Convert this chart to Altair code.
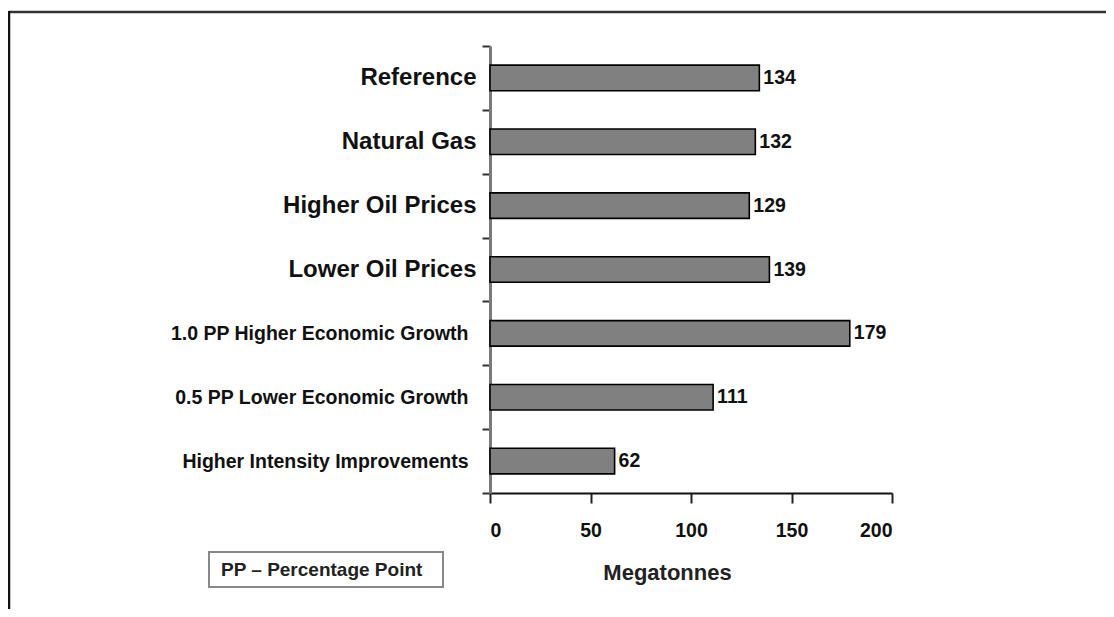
import altair as alt
import pandas as pd

categories = [
    "Reference",
    "Natural Gas",
    "Higher Oil Prices",
    "Lower Oil Prices",
    "1.0 PP Higher Economic Growth",
    "0.5 PP Lower Economic Growth",
    "Higher Intensity Improvements",
]
values = [134, 132, 129, 139, 179, 111, 62]
narrow_categories = [
    "1.0 PP Higher Economic Growth",
    "0.5 PP Lower Economic Growth",
    "Higher Intensity Improvements",
]
x_ticks = [0, 50, 100, 150, 200]
x_title = "Megatonnes"
note_text = "PP \u2013 Percentage Point"

df = pd.DataFrame({"scenario": categories, "mt": values})

FONT = "Liberation Sans, Arial, Helvetica, sans-serif"

narrow_test = "indexof([" + ",".join("'" + c + "'" for c in narrow_categories) + "], datum.value) >= 0"

y_enc = alt.Y(
    "scenario:N",
    sort=categories,
    title=None,
    scale=alt.Scale(paddingInner=0, paddingOuter=0),
    axis=alt.Axis(
        domainColor="#7a7a7a",
        domainWidth=3,
        tickColor="#333333",
        tickWidth=2,
        tickSize=8,
        tickBand="extent",
        labelFont=FONT,
        labelFontSize={"condition": {"test": narrow_test, "value": 19.5}, "value": 24},
        labelFontWeight="bold",
        labelColor="#111111",
        labelPadding={"condition": {"test": narrow_test, "value": 14}, "value": 6},
        labelLimit=400,
    ),
)

x_enc = alt.X(
    "mt:Q",
    scale=alt.Scale(domain=[0, 200], nice=False),
    axis=alt.Axis(
        values=x_ticks,
        grid=False,
        domainColor="#111111",
        domainWidth=2,
        tickColor="#222222",
        tickWidth=2,
        tickSize=10,
        labelFont=FONT,
        labelFontSize=19.5,
        labelFontWeight="bold",
        labelColor="#111111",
        labelPadding=18,
        title=x_title,
        titleFont=FONT,
        titleFontSize=22,
        titleFontWeight="bold",
        titleColor="#222222",
        titleX=177,
        titleY=86,
        titleBaseline="alphabetic",
        titleAnchor="start",
        titleAlign="center",
    ),
)

base = alt.Chart(df)

bars = base.mark_bar(
    fill="#808080", stroke="#000000", strokeWidth=1.6, height={"band": 0.4}
).encode(y=y_enc, x=x_enc)

labels = base.mark_text(
    align="left", baseline="middle", dx=4, font=FONT, fontSize=19.5,
    fontWeight="bold", color="#111111"
).encode(
    y=alt.Y("scenario:N", sort=categories),
    x=alt.X("mt:Q"),
    text=alt.Text("mt:Q"),
)

# figure frame (top and left edges)
frame_top = alt.Chart(pd.DataFrame({"k": [0]})).mark_rule(
    color="#333333", strokeWidth=2.5
).encode(x=alt.value(-481), x2=alt.value(616), y=alt.value(-34))
frame_left = alt.Chart(pd.DataFrame({"k": [0]})).mark_rule(
    color="#111111", strokeWidth=2.5
).encode(x=alt.value(-481), y=alt.value(-35), y2=alt.value(565))

# note box
note_box = alt.Chart(pd.DataFrame({"k": [0]})).mark_rect(
    fill="white", stroke="#888888", strokeWidth=2
).encode(x=alt.value(-281), x2=alt.value(-47), y=alt.value(506), y2=alt.value(541))
note = alt.Chart(pd.DataFrame({"t": [note_text]})).mark_text(
    align="left", baseline="middle", font=FONT, fontSize=19, fontWeight="bold",
    color="#222222"
).encode(x=alt.value(-269), y=alt.value(524), text="t:N")

chart = alt.layer(bars, labels, frame_top, frame_left, note_box, note).properties(
    width=402,
    height=447,
    background="white",
    autosize=alt.AutoSizeParams(type="none"),
    padding={"left": 482, "top": 38, "right": 214, "bottom": 116},
).configure_view(strokeWidth=0, stroke="transparent")

chart.save("out.html", embed_options={"renderer": "svg", "actions": False})
